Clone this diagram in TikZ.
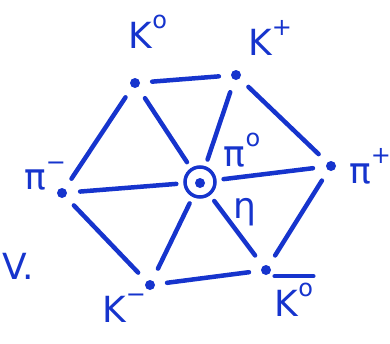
\documentclass[tikz,border=0pt]{standalone}
\usepackage{fontspec}
\setmainfont{DejaVu Sans}
\definecolor{ink}{RGB}{22, 52, 205}
\usetikzlibrary{positioning}
\newcommand{\up}[1]{\raisebox{0.55em}{\fontsize{24}{24}\selectfont #1}}
\tikzset{
    pen/.style={draw=ink, line width=4.5pt, line cap=round},
    dotmark/.style={circle, fill=ink, inner sep=0pt, minimum size=10pt},
    ring/.style={circle, draw=ink, line width=3.5pt, minimum size=30pt, inner sep=0pt},
    edge/.style={pen, shorten >=12pt, shorten <=12pt},
    spoke/.style={pen, shorten >=13pt, shorten <=7pt},
    lbl/.style={text=ink, font=\fontsize{36}{36}\selectfont, inner sep=0pt}
}
\begin{document}
\begin{tikzpicture}[x=1pt, y=-1pt]
    \useasboundingbox (0,0) rectangle (390,343);

    % Octet points
    \node[dotmark] (k0) at (135,83) {};
    \node[dotmark] (kp) at (236,75) {};
    \node[dotmark] (pim) at (62,193) {};
    \node[dotmark] (pip) at (331,166) {};
    \node[dotmark] (km) at (150,285) {};
    \node[dotmark] (k0b) at (266,270) {};
    \node[dotmark] (mid) at (200,183) {};
    \node[ring] (ctr) at (200,182) {};

    % Labels
    \node[lbl] (lk0) at (148,32) {K\up{o}};
    \node[lbl] (lkp) at (270,38) {K\up{+}};
    \node[lbl] (lpim) at (45,176) {π\up{−}};
    \node[lbl] (lpi0) at (242,150) {π\up{o}};
    \node[lbl] (lpip) at (370,166) {π\up{+}};
    \node[lbl] (leta) at (245,212) {η};
    \node[lbl] (lkm) at (124,308) {K\up{−}};
    \node[lbl] (lk0b) at (294,300) {K\up{o}};
    \draw[pen] ([yshift=7pt]lk0b.north west) -- ([yshift=7pt]lk0b.north east);
    \node[lbl] (lv) at (18,266) {V.};

    % Hexagon
    \draw[edge] (k0) -- (kp);
    \draw[edge] (kp) -- (pip);
    \draw[edge] (pip) -- (k0b);
    \draw[edge] (k0b) -- (km);
    \draw[edge] (km) -- (pim);
    \draw[edge] (pim) -- (k0);

    % Spokes
    \foreach \p in {k0,kp,pip,k0b,km,pim}
        \draw[spoke] (ctr) -- (\p);
\end{tikzpicture}
\end{document}
